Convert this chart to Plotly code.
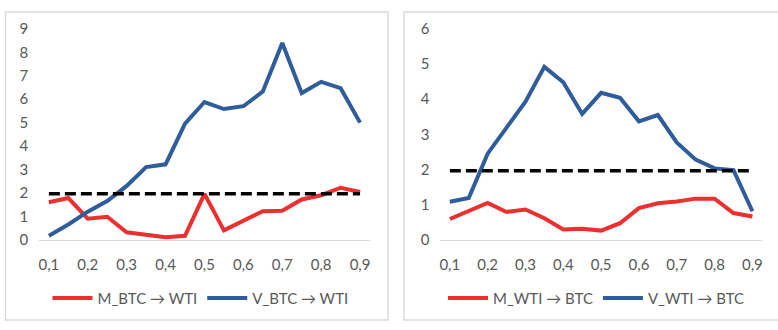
import plotly.graph_objects as go
from plotly.subplots import make_subplots

# Quantile levels (tau) shared by both panels
quantiles = [0.10, 0.15, 0.20, 0.25, 0.30, 0.35, 0.40, 0.45, 0.50,
             0.55, 0.60, 0.65, 0.70, 0.75, 0.80, 0.85, 0.90]
tick_vals = [0.1, 0.2, 0.3, 0.4, 0.5, 0.6, 0.7, 0.8, 0.9]
tick_text = ["0,1", "0,2", "0,3", "0,4", "0,5", "0,6", "0,7", "0,8", "0,9"]

# BTC -> WTI causality statistics
m_btc_wti = [1.60, 1.78, 0.90, 0.98, 0.32, 0.22, 0.11, 0.17, 1.96,
             0.40, 0.82, 1.22, 1.24, 1.72, 1.90, 2.22, 2.04]
v_btc_wti = [0.17, 0.65, 1.20, 1.65, 2.30, 3.10, 3.22, 4.96, 5.88,
             5.58, 5.70, 6.33, 8.40, 6.26, 6.74, 6.47, 5.00]

# WTI -> BTC causality statistics
m_wti_btc = [0.59, 0.83, 1.05, 0.79, 0.86, 0.61, 0.29, 0.31, 0.26,
             0.47, 0.90, 1.04, 1.09, 1.17, 1.17, 0.76, 0.66]
v_wti_btc = [1.08, 1.19, 2.45, 3.18, 3.93, 4.92, 4.48, 3.58, 4.18,
             4.04, 3.37, 3.55, 2.77, 2.28, 2.03, 1.98, 0.81]

# 5% critical value
critical = 1.96

RED = "#EC2F2F"
BLUE = "#2F5D9C"
TEXT = "#595959"
FONT = "Lato, Roboto, sans-serif"
W, H = 778, 330

fig = make_subplots(rows=1, cols=2, horizontal_spacing=0.0)

panels = [
    (1, m_btc_wti, v_btc_wti, "M_BTC → WTI", "V_BTC → WTI", "legend", 9),
    (2, m_wti_btc, v_wti_btc, "M_WTI → BTC", "V_WTI → BTC", "legend2", 6),
]
for col, m_vals, v_vals, m_name, v_name, leg, ymax in panels:
    fig.add_trace(go.Scatter(x=quantiles, y=m_vals, mode="lines", name=m_name,
                             line=dict(color=RED, width=4), legend=leg),
                  row=1, col=col)
    fig.add_trace(go.Scatter(x=quantiles, y=v_vals, mode="lines", name=v_name,
                             line=dict(color=BLUE, width=4), legend=leg),
                  row=1, col=col)
    fig.add_trace(go.Scatter(x=quantiles, y=[critical] * len(quantiles), mode="lines",
                             showlegend=False, legend=leg,
                             line=dict(color="black", width=3.5, dash="11px,5px")),
                  row=1, col=col)
    fig.update_yaxes(range=[0, ymax], dtick=1, showgrid=False, zeroline=False,
                     showline=False, ticks="", ticklabelstandoff=10,
                     tickfont=dict(family=FONT, size=15, color=TEXT),
                     row=1, col=col)
    fig.update_xaxes(range=[0.075, 0.925], tickvals=tick_vals, ticktext=tick_text,
                     showgrid=False, zeroline=False, showline=True,
                     linecolor="#D9D9D9", linewidth=1, ticks="",
                     ticklabelstandoff=11,
                     tickfont=dict(family=FONT, size=15, color=TEXT),
                     row=1, col=col)

y_dom = [1 - 243 / H, 1 - 20 / H]
fig.update_layout(
    xaxis=dict(domain=[38.25 / W, 369.75 / W]),
    xaxis2=dict(domain=[440.5 / W, 762.8 / W]),
    yaxis=dict(domain=y_dom),
    yaxis2=dict(domain=y_dom),
)

legend_style = dict(orientation="h", xanchor="center", yanchor="middle",
                    y=1 - 305 / H, itemwidth=40, bgcolor="rgba(0,0,0,0)",
                    font=dict(family=FONT, size=15, color=TEXT))
fig.update_layout(
    legend=dict(x=200 / W, **legend_style),
    legend2=dict(x=597 / W, **legend_style),
)

# Frames around each panel
fig.add_shape(type="rect", xref="paper", yref="paper",
              x0=4.5 / W, x1=388 / W, y0=1 - 328 / H, y1=1 - 2 / H,
              line=dict(color="#D9D9D9", width=1.5), layer="below")
fig.add_shape(type="rect", xref="paper", yref="paper",
              x0=404 / W, x1=790 / W, y0=1 - 328 / H, y1=1 - 2 / H,
              line=dict(color="#D9D9D9", width=1.5), layer="below")

fig.update_layout(width=W, height=H, margin=dict(l=0, r=0, t=0, b=0),
                  paper_bgcolor="white", plot_bgcolor="white", showlegend=True)

fig.write_html("out.html")
